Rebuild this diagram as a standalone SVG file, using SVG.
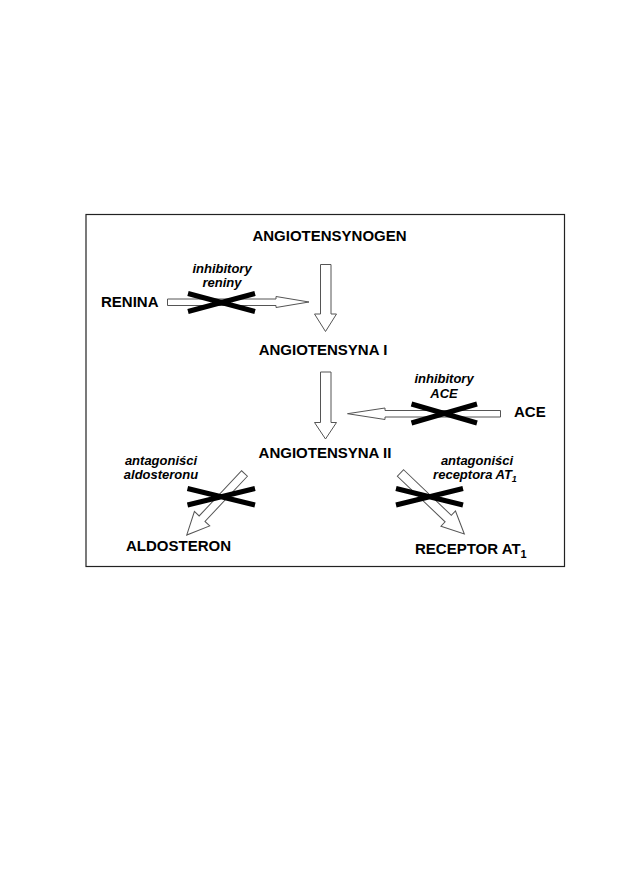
<svg xmlns="http://www.w3.org/2000/svg" width="630" height="893" viewBox="0 0 630 893">
<style>
.n{font-family:"Liberation Sans",Arial,sans-serif;font-weight:bold;font-size:15px;fill:#000}
.l{font-family:"Liberation Sans",Arial,sans-serif;font-weight:bold;font-style:italic;font-size:13px;fill:#000}
.ar{fill:#fff;stroke:#555;stroke-width:1}
.x{stroke:#000;stroke-width:5;fill:none}
</style>
<rect width="630" height="893" fill="#fff"/>
<rect x="86" y="214.5" width="478.5" height="352" fill="none" stroke="#222" stroke-width="1.2"/>
<g id="angiotensynogen"><text class="n" x="329.5" y="241" text-anchor="middle">ANGIOTENSYNOGEN</text></g>
<g id="renina"><text class="n" x="101" y="307">RENINA</text></g>
<g id="angiotensyna1"><text class="n" x="323" y="355" text-anchor="middle">ANGIOTENSYNA I</text></g>
<g id="ace"><text class="n" x="514" y="417">ACE</text></g>
<g id="angiotensyna2"><text class="n" x="325" y="458" text-anchor="middle">ANGIOTENSYNA II</text></g>
<g id="aldosteron"><text class="n" x="126" y="551">ALDOSTERON</text></g>
<g id="receptor"><text class="n" x="415" y="553.5">RECEPTOR AT<tspan font-size="11" dy="4">1</tspan></text></g>
<g id="inhib-reniny"><text class="l" x="222" y="273" text-anchor="middle">inhibitory</text><text class="l" x="222" y="287" text-anchor="middle">reniny</text></g>
<g id="inhib-ace"><text class="l" x="444" y="383" text-anchor="middle">inhibitory</text><text class="l" x="444" y="398" text-anchor="middle">ACE</text></g>
<g id="antag-aldo"><text class="l" x="161" y="465" text-anchor="middle">antagoniści</text><text class="l" x="161" y="479" text-anchor="middle">aldosteronu</text></g>
<g id="antag-at1"><text class="l" x="477" y="465" text-anchor="middle">antagoniści</text><text class="l" x="475" y="479" text-anchor="middle">receptora AT<tspan font-size="9" dy="3">1</tspan></text></g>
<g id="connectors">
<path class="ar" d="M320.5,264.5 H331 V314 H336.5 L325.5,331.5 L314.5,314 H320.5 Z"/>
<path class="ar" d="M320.5,372 H331 V422.5 H336.5 L325.5,439 L314.5,422.5 H320.5 Z"/>
<path class="ar" d="M167.5,299 H276 V296.5 L309,302 L276,307.5 V305.5 H167.5 Z"/>
<path class="ar" d="M500.5,410.5 H385 V408 L347.5,413.7 L385,419.5 V417 H500.5 Z"/>
<path class="ar" transform="translate(244.5,473.5) rotate(133.2)" d="M0,-4 H62 V-10.5 L84.4,0 L62,10.5 V4 H0 Z"/>
<path class="ar" transform="translate(400.5,473) rotate(43.7)" d="M0,-4.5 H66 V-10.5 L88.3,0 L66,10.5 V4.5 H0 Z"/>
</g>
<g id="blocks">
<path class="x" d="M188,293.5 L255,311.5 M188,311.5 L255,293.5"/>
<path class="x" d="M411.5,404 L477,423 M411.5,423 L477,404"/>
<path class="x" d="M187.5,488.5 L255,505 M187.5,505 L255,488.5"/>
<path class="x" d="M396,488.5 L463,505 M396,505 L463,488.5"/>
</g>
</svg>
